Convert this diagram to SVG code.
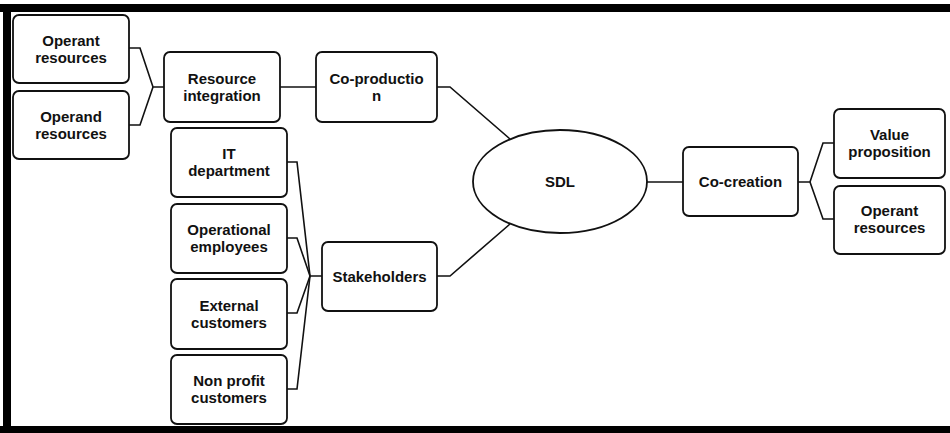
<svg xmlns="http://www.w3.org/2000/svg" width="950" height="433" viewBox="0 0 950 433">
<style>
.box{fill:#fff;stroke:#111;stroke-width:1.8}
.t{font-family:"Liberation Sans",Arial,sans-serif;font-weight:bold;font-size:15px;fill:#111;text-anchor:middle}
.c{fill:none;stroke:#111;stroke-width:1.6;stroke-linejoin:miter}
</style>
<rect x="0" y="0" width="950" height="433" fill="#fff"/>
<rect x="0" y="4" width="950" height="8" fill="#000"/>
<rect x="3" y="4" width="8" height="429" fill="#000"/>
<rect x="0" y="426" width="950" height="7" fill="#000"/>
<g id="connectors">
<polyline class="c" points="129,48 140,48 153,87 164,87"/>
<polyline class="c" points="129,125 140,125 153,87"/>
<line class="c" x1="280" y1="87" x2="316" y2="87"/>
<polyline class="c" points="437,87 450,87 510,139"/>
<polyline class="c" points="287,162 297,162 310,276 322,276"/>
<polyline class="c" points="287,238 297,238 310,276"/>
<polyline class="c" points="287,313 297,313 310,276"/>
<polyline class="c" points="287,389 297,389 310,276"/>
<polyline class="c" points="437,276 450,276 510,224"/>
<line class="c" x1="647" y1="182" x2="683" y2="182"/>
<polyline class="c" points="798,182 810,182 823,143 834,143"/>
<polyline class="c" points="810,182 823,219 834,219"/>
</g>
<g id="operant-resources-1"><rect class="box" x="13" y="15" width="116" height="68" rx="6"/><text class="t" x="71" y="46">Operant</text><text class="t" x="71" y="63">resources</text></g>
<g id="operand-resources"><rect class="box" x="13" y="91" width="116" height="68" rx="6"/><text class="t" x="71" y="122">Operand</text><text class="t" x="71" y="139">resources</text></g>
<g id="resource-integration"><rect class="box" x="164" y="52" width="116" height="70" rx="6"/><text class="t" x="222" y="84">Resource</text><text class="t" x="222" y="101">integration</text></g>
<g id="co-production"><rect class="box" x="316" y="52" width="121" height="70" rx="6"/><text class="t" x="376.5" y="84">Co-productio</text><text class="t" x="376.5" y="101">n</text></g>
<g id="it-department"><rect class="box" x="171" y="128" width="116" height="69" rx="6"/><text class="t" x="229" y="159">IT</text><text class="t" x="229" y="176">department</text></g>
<g id="operational-employees"><rect class="box" x="171" y="204" width="116" height="69" rx="6"/><text class="t" x="229" y="235">Operational</text><text class="t" x="229" y="252">employees</text></g>
<g id="external-customers"><rect class="box" x="171" y="279" width="116" height="70" rx="6"/><text class="t" x="229" y="311">External</text><text class="t" x="229" y="328">customers</text></g>
<g id="non-profit-customers"><rect class="box" x="171" y="355" width="116" height="69" rx="6"/><text class="t" x="229" y="386">Non profit</text><text class="t" x="229" y="403">customers</text></g>
<g id="stakeholders"><rect class="box" x="322" y="242" width="115" height="69" rx="6"/><text class="t" x="379.5" y="282">Stakeholders</text></g>
<g id="sdl"><ellipse class="box" cx="560" cy="181.5" rx="87" ry="51.5"/><text class="t" x="560" y="187">SDL</text></g>
<g id="co-creation"><rect class="box" x="683" y="147" width="115" height="69" rx="6"/><text class="t" x="740.5" y="187">Co-creation</text></g>
<g id="value-proposition"><rect class="box" x="834" y="109" width="111" height="69" rx="6"/><text class="t" x="889.5" y="140">Value</text><text class="t" x="889.5" y="157">proposition</text></g>
<g id="operant-resources-2"><rect class="box" x="834" y="186" width="111" height="68" rx="6"/><text class="t" x="889.5" y="216">Operant</text><text class="t" x="889.5" y="233">resources</text></g>
</svg>
